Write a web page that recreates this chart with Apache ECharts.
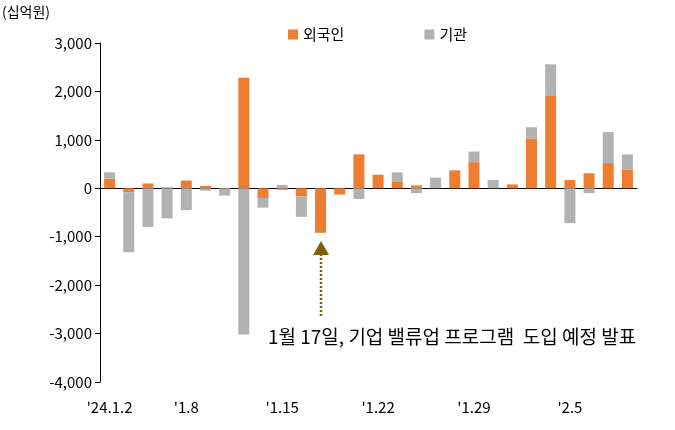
<!DOCTYPE html>
<html><head><meta charset="utf-8">
<script src="https://cdn.jsdelivr.net/npm/echarts@6/dist/echarts.min.js"></script>
<style>html,body{margin:0;padding:0;background:#fff}#c{width:675px;height:430px}</style>
</head><body><div id="c"></div>
<script>
const categories = ['1.2','1.3','1.4','1.5','1.8','1.9','1.10','1.11','1.12','1.15','1.16','1.17','1.18','1.19','1.22','1.23','1.24','1.25','1.26','1.29','1.30','1.31','2.1','2.2','2.5','2.6','2.7','2.8'];
const tickLabels = {0:"'24.1.2",4:"'1.8",9:"'1.15",14:"'1.22",19:"'1.29",24:"'2.5"};
const foreign = [200,-80,100,20,160,50,0,2280,-200,-30,-170,-920,-130,700,280,130,60,0,370,540,0,80,1030,1920,170,310,520,390];
const inst = [130,-1240,-800,-620,-450,-50,-150,-3020,-200,70,-420,0,0,-220,0,200,-100,220,0,220,170,0,230,640,-720,-100,640,310];
const font = '"Noto Sans CJK KR", sans-serif';
const chart = echarts.init(document.getElementById('c'));
chart.setOption({
  animation:false,
  textStyle:{fontFamily:font},
  grid:{left:100,right:38,top:43,bottom:48},
  legend:{top:22,left:283,itemGap:80,itemWidth:10,itemHeight:10,icon:'rect',
    textStyle:{fontSize:15,color:'#000',fontFamily:font},data:['외국인','기관']},
  xAxis:[{type:'category',data:categories,axisLine:{show:false,onZero:false},axisTick:{show:false},
    axisLabel:{interval:0,fontSize:15,color:'#000',margin:18,formatter:(v,i)=>tickLabels[i]||''}},
   {type:'category',data:categories,position:'bottom',axisLine:{onZero:true,lineStyle:{color:'#000'}},axisTick:{show:false},axisLabel:{show:false}}],
  yAxis:{type:'value',min:-4000,max:3000,interval:1000,splitLine:{show:false},
    axisLine:{show:true,lineStyle:{color:'#000'}},axisTick:{show:true,inside:false},
    axisLabel:{fontSize:15,color:'#000',formatter:v=>v.toLocaleString('en-US')}},
  series:[
    {name:'외국인',type:'bar',stack:'a',data:foreign,barWidth:11,itemStyle:{color:'#ED7D31'}},
    {name:'기관',type:'bar',stack:'a',data:inst,barWidth:11,itemStyle:{color:'#B2B2B2'}}
  ],
  graphic:[
    {type:'text',left:2,top:5,style:{text:'(십억원)',fontSize:14,fill:'#000',fontFamily:font}},
    {type:'line',shape:{x1:321,y1:316,x2:321,y2:255},style:{stroke:'#7F6000',lineWidth:2.5,lineDash:[2,2]}},
    {type:'polygon',shape:{points:[[321,241],[313,255],[329,255]]},style:{fill:'#7F6000'}},
    {type:'text',left:268,top:327,style:{text:'1월 17일, 기업 밸류업 프로그램  도입 예정 발표',fontSize:19,fill:'#000',fontFamily:font}}
  ]
});
</script></body></html>
